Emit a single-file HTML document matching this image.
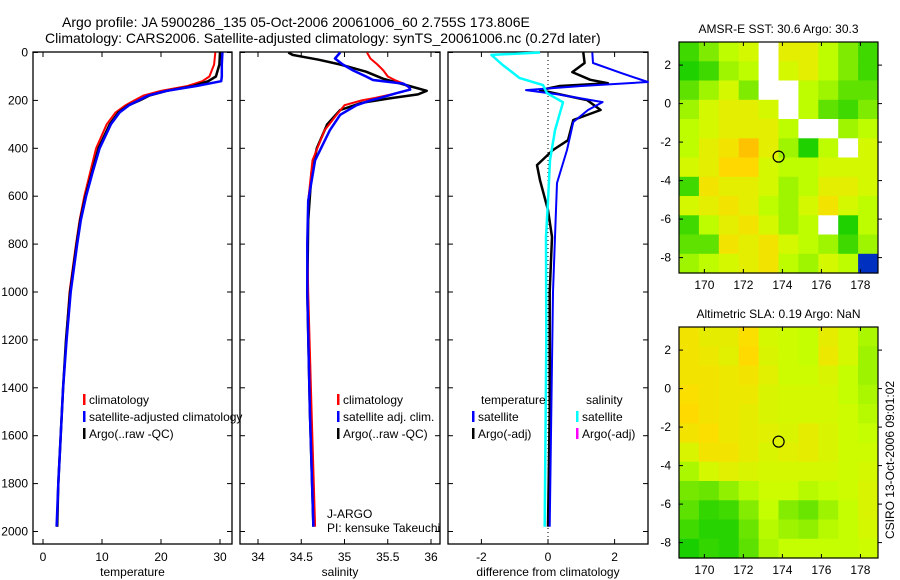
<!DOCTYPE html>
<html><head><meta charset="utf-8"><style>
body{margin:0;background:#fff;}
svg{display:block;font-family:"Liberation Sans",sans-serif;}
</style></head><body>
<svg id="chart" width="900" height="580" viewBox="0 0 900 580">
<text x="62" y="27" font-size="14">Argo profile: JA 5900286_135 05-Oct-2006 20061006_60 2.755S 173.806E</text>
<text x="45" y="43" font-size="14">Climatology: CARS2006. Satellite-adjusted climatology: synTS_20061006.nc (0.27d later)</text>
<g id="plots"></g>
</svg>
<script>
// ---- profile data ----
const depthT=[0,50,100,120,140,160,180,200,220,250,300,400,500,600,700,800,1000,1200,1400,1600,1800,1980];
const argoT=[30.0,29.9,29.3,28.0,25.5,21,18,16.4,14.5,12.8,11.3,9.4,8.3,7.2,6.3,5.7,4.6,3.9,3.4,3.0,2.6,2.4];
const climT=[29.2,29.0,28.2,27.0,24.5,20,17.0,15.5,14.0,12.3,10.8,9.0,8.0,7.0,6.2,5.6,4.5,3.9,3.4,3.0,2.6,2.4];
const satT=[30.4,30.3,30.3,30.2,26,21,17.8,16.2,14.6,13.0,11.5,9.6,8.4,7.3,6.4,5.8,4.7,4.0,3.4,3.0,2.6,2.3];
const depthS=[0,25,50,75,100,115,130,145,155,170,190,200,220,260,325,450,620,800,1000,1500,1980];
const satS=[34.95,34.89,34.98,35.1,35.25,35.33,35.68,35.75,35.76,35.6,35.41,35.3,35.14,34.95,34.83,34.66,34.58,34.57,34.57,34.6,34.64];
const climS=[35.26,35.3,35.38,35.45,35.5,35.58,35.68,35.74,35.76,35.6,35.35,35.2,35.0,34.91,34.77,34.63,34.58,34.57,34.58,34.62,34.66];
const depthA=[0,10,20,30,50,80,110,140,160,175,190,210,240,300,400,500,700,1000,1500,1980];
const argoS=[34.35,34.4,34.55,34.7,34.95,35.25,35.45,35.75,35.95,35.85,35.55,35.2,34.95,34.8,34.68,34.62,34.58,34.57,34.6,34.64];
const depthD=[0,44,86,123,140,157,175,207,240,290,407,545,770,1000,1500,1980];
const satDT=[1.33,1.35,2.2,3.0,1.0,-0.66,0.3,1.64,1.2,0.76,0.57,0.27,0.21,0.15,0.1,0.05];
const depthDA=[0,44,82,114,128,140,157,199,240,282,366,407,470,533,658,770,1000,1500,1980];
const argoDT=[1.06,1.1,0.73,1.27,1.8,0.36,-0.24,1.18,1.58,0.76,0.6,0.15,-0.33,-0.24,0.0,0.12,0.05,0.05,0.0];
const depthDS=[0,10,52,107,136,170,208,325,450,620,770,1200,1980];
const satDS=[-0.24,-1.7,-1.36,-0.85,-0.15,-0.03,0.45,0.21,0.06,0.0,-0.06,-0.05,-0.1];
const depthTicks=[0,200,400,600,800,1000,1200,1400,1600,1800,2000];
const tempTicks=[0,10,20,30];
const salTicks=[34,34.5,35,35.5,36];
const diffTicks=[-2,0,2];
// ---- map data (rows north->south, cols west->east) ----
const sstGrid=[
[29.7,29.9,30.1,30.2,null,30.3,30.3,30.1,29.9,29.7],
[29.6,29.7,30.0,30.1,null,30.2,30.3,30.1,29.9,29.7],
[29.8,30.0,30.2,29.9,null,null,30.1,30.0,29.8,29.8],
[30.0,30.2,30.3,30.3,30.2,null,30.1,29.8,29.7,29.9],
[30.1,30.2,30.3,30.3,30.3,30.1,null,null,30.0,30.1],
[30.1,30.3,30.4,30.6,30.3,30.0,29.6,30.1,null,30.2],
[30.2,30.3,30.5,30.5,30.2,30.1,30.1,30.2,30.2,30.2],
[29.7,30.4,30.3,30.3,30.2,30.0,30.1,30.3,30.3,30.2],
[30.2,30.3,30.4,30.3,30.1,30.0,30.2,30.4,30.2,30.1],
[29.7,30.1,30.3,30.4,30.2,30.0,30.1,null,29.6,30.1],
[29.8,29.8,30.4,30.3,30.4,30.2,30.1,30.0,29.7,30.0],
[30.0,30.1,30.2,30.3,30.4,30.1,30.0,30.2,30.1,28.5]];
const slaGrid=[
[0.22,0.20,0.20,0.23,0.17,0.16,0.15,0.20,0.17,0.13],
[0.22,0.21,0.19,0.24,0.18,0.16,0.15,0.21,0.17,0.12],
[0.22,0.22,0.21,0.22,0.19,0.16,0.16,0.18,0.15,0.12],
[0.23,0.22,0.21,0.21,0.18,0.17,0.17,0.17,0.15,0.13],
[0.24,0.22,0.21,0.20,0.18,0.17,0.17,0.17,0.16,0.14],
[0.22,0.23,0.21,0.20,0.19,0.18,0.20,0.18,0.16,0.15],
[0.18,0.22,0.22,0.20,0.18,0.19,0.20,0.18,0.16,0.16],
[0.13,0.17,0.19,0.18,0.17,0.17,0.17,0.17,0.16,0.17],
[0.09,0.08,0.11,0.14,0.16,0.16,0.14,0.15,0.16,0.18],
[0.07,0.04,0.05,0.10,0.15,0.10,0.08,0.12,0.15,0.18],
[0.05,0.03,0.03,0.08,0.14,0.12,0.11,0.14,0.15,0.17],
[0.02,0.04,0.03,0.07,0.13,0.15,0.15,0.15,0.15,0.16]];
const lonTicks=[170,172,174,176,178];
const latTicks=[2,0,-2,-4,-6,-8];
const argoLon=173.806, argoLat=-2.755;

const NS="http://www.w3.org/2000/svg";
const G=document.getElementById('plots');
function el(tag,attrs,parent){const e=document.createElementNS(NS,tag);for(const k in attrs)e.setAttribute(k,attrs[k]);(parent||G).appendChild(e);return e;}
function txt(x,y,s,size,anchor,parent){const t=el('text',{x:x,y:y,'font-size':size||12,'text-anchor':anchor||'start'},parent);t.textContent=s;return t;}

const yD=d=>52.5+d*0.2395;
const PTOP=52,PBOT=544;
const panels=[
 {name:'temperature',x0:33,x1:232,f:v=>43+v*5.9,ticks:tempTicks,label:'temperature'},
 {name:'salinity',x0:240,x1:440,f:v=>258+(v-34)*86.5,ticks:salTicks,label:'salinity'},
 {name:'difference',x0:448,x1:648,f:v=>548+v*33.3,ticks:diffTicks,label:'difference from climatology'}];

panels.forEach((p,i)=>{
 const g=el('g',{});
 
 
 el('rect',{x:p.x0,y:PTOP,width:p.x1-p.x0,height:PBOT-PTOP,fill:'none',stroke:'#000','stroke-width':1.3},g);
 p.ticks.forEach(v=>{const x=p.f(v);
  el('line',{x1:x,x2:x,y1:PBOT,y2:PBOT-5,stroke:'#000'},g);
  el('line',{x1:x,x2:x,y1:PTOP,y2:PTOP+5,stroke:'#000'},g);
  const t=txt(x,561,String(v),12,'middle',g);
  
  });
 depthTicks.forEach(d=>{const y=yD(d);
  el('line',{x1:p.x0,x2:p.x0+5,y1:y,y2:y,stroke:'#000'},g);
  el('line',{x1:p.x1,x2:p.x1-5,y1:y,y2:y,stroke:'#000'},g);
  if(i===0){const t=txt(28,y+4,String(d),12,'end',g);
   
   }});
 const lab=txt((p.x0+p.x1)/2,576,p.label,12,'middle',g);
 
 
 p.g=g;
});
function line(p,depths,vals,color,w,name){
 const pts=depths.map((d,i)=>p.f(vals[i]).toFixed(1)+','+yD(d).toFixed(1)).join(' ');
 const pl=el('polyline',{points:pts,fill:'none',stroke:color,'stroke-width':w,'stroke-linejoin':'round'},p.g);
 
 
}
const [P1,P2,P3]=panels;
line(P1,depthT,climT,'#f00',2,'climatology-temperature-line');
line(P1,depthT,argoT,'#000',2.5,'argo-temperature-line');
line(P1,depthT,satT,'#00f',2.5,'satellite-temperature-line');
line(P2,depthA,argoS,'#000',2.5,'argo-salinity-line');
line(P2,depthS,climS,'#f00',2,'climatology-salinity-line');
line(P2,depthS,satS,'#00f',2.5,'satellite-salinity-line');
el('line',{x1:P3.f(0),x2:P3.f(0),y1:PTOP,y2:PBOT,stroke:'#000','stroke-dasharray':'1,3'},P3.g);
line(P3,depthDA,argoDT,'#000',2.5,'argo-temp-diff-line');
line(P3,depthD,satDT,'#00f',2,'satellite-temp-diff-line');
line(P3,depthDS,satDS,'#0ff',2.5,'satellite-sal-diff-line');

function legend(g,x,y,color,label){
 el('rect',{x:x,y:y-9,width:2.5,height:11,fill:color},g);
 const t=txt(x+6,y+1,label,12,'start',g);
 
 
}
legend(P1.g,83,403,'#f00','climatology');
legend(P1.g,83,420,'#00f','satellite-adjusted climatology');
legend(P1.g,83,437,'#000','Argo(..raw -QC)');
legend(P2.g,337,403,'#f00','climatology');
legend(P2.g,337,420,'#00f','satellite adj. clim.');
legend(P2.g,337,437,'#000','Argo(..raw -QC)');
txt(481,404,'temperature',12,'start',P3.g);
legend(P3.g,472,420,'#00f','satellite');
legend(P3.g,472,437,'#000','Argo(-adj)');
txt(586,404,'salinity',12,'start',P3.g);
legend(P3.g,576,420,'#0ff','satellite');
legend(P3.g,576,437,'#f0f','Argo(-adj)');
txt(327,518,'J-ARGO',12,'start',P2.g);
txt(327,532,'PI: kensuke Takeuchi',12,'start',P2.g);
// ---- maps ----
function cmap(t){
 if(t===null)return '#fff';
 const stops=[[0,[0,200,0]],[0.45,[200,255,0]],[0.7,[255,220,0]],[1,[255,130,0]]];
 if(t<0)return '#0030c0';
 t=Math.min(1,t);
 for(let i=1;i<stops.length;i++){if(t<=stops[i][0]){const a=stops[i-1],b=stops[i],f=(t-a[0])/(b[0]-a[0]);
  return 'rgb('+a[1].map((c,k)=>Math.round(c+(b[1][k]-c)*f)).join(',')+')';}}
}
const LON0=168.7,LON1=178.9,LAT0=3.2,LAT1=-8.8,MX0=679,MX1=878;
function drawMap(grid,vmin,vmax,top,title,name){
 const bot=top+231;
 const g=el('g',{});
 
 
 const xL=l=>MX0+(l-LON0)/(LON1-LON0)*(MX1-MX0);
 const yL=l=>top+(LAT0-l)/(LAT0-LAT1)*(bot-top);
 const nr=grid.length,nc=grid[0].length,dl=(LON1-LON0)/nc,dt=(LAT0-LAT1)/nr;
 grid.forEach((row,r)=>row.forEach((v,c)=>{
  const x=xL(LON0+c*dl),y=yL(LAT0-r*dt);
  const cell=el('rect',{x:x.toFixed(1),y:y.toFixed(1),width:(xL(LON0+(c+1)*dl)-x+0.5).toFixed(1),height:(yL(LAT0-(r+1)*dt)-y+0.5).toFixed(1),fill:cmap(v===null?null:(v-vmin)/(vmax-vmin))},g);
  
  }));
 el('rect',{x:MX0,y:top,width:MX1-MX0,height:bot-top,fill:'none',stroke:'#000','stroke-width':1.2},g);
 lonTicks.forEach(l=>{const x=xL(l);
  el('line',{x1:x,x2:x,y1:top,y2:top+4,stroke:'#000'},g);
  el('line',{x1:x,x2:x,y1:bot,y2:bot-4,stroke:'#000'},g);
  txt(x,bot+16,String(l),12,'middle',g);});
 latTicks.forEach(l=>{const y=yL(l);
  el('line',{x1:MX0,x2:MX0+4,y1:y,y2:y,stroke:'#000'},g);
  el('line',{x1:MX1,x2:MX1+4,y1:y,y2:y,stroke:'#000'},g);
  txt(MX0-8,y+4,String(l),12,'end',g);});
 const c=el('circle',{cx:xL(argoLon),cy:yL(argoLat),r:5.5,fill:'none',stroke:'#000','stroke-width':1.2},g);
 
 
 const t=txt((MX0+MX1)/2,top-9,title,12,'middle',g);
 
 
}
drawMap(sstGrid,29.5,30.9,42,'AMSR-E SST: 30.6 Argo: 30.3','sst-map');
drawMap(slaGrid,0,0.34,327,'Altimetric SLA: 0.19 Argo: NaN','sla-map');
const cs=txt(0,0,'CSIRO 13-Oct-2006 09:01:02',12,'middle');
cs.setAttribute('transform','translate(894,460) rotate(-90)');


</script>
</body></html>
